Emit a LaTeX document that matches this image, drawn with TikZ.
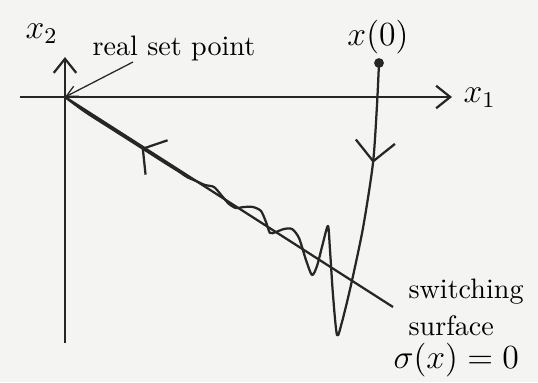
\documentclass[tikz,border=0pt]{standalone}
\usepackage{tikz}
\usetikzlibrary{arrows.meta,decorations.markings}
\definecolor{paper}{RGB}{244,244,243}
\definecolor{ink}{RGB}{38,38,38}

\begin{document}
\begin{tikzpicture}[
  x=0.0125cm, y=-0.0125cm,
  axis/.style={draw=ink, line width=0.8pt, -{Straight Barb[length=5pt,width=8pt]}},
  surf/.style={draw=ink, line width=0.8pt},
  traj/.style={draw=ink, line width=0.8pt, line join=round},
  pointer/.style={draw=ink, line width=0.45pt, -{Straight Barb[length=4pt,width=4pt]}},
  chevrons/.style={postaction={decorate}, decoration={markings,
    mark=at position 1.25cm with {\arrow[ink, line width=0.8pt]{Straight Barb[length=7pt,width=14pt]}},
    mark=at position -1.15cm with {\arrow[ink, line width=0.8pt]{Straight Barb[length=5.8pt,width=14.5pt]}}}},
  dot/.style={circle, fill=ink, inner sep=0pt, minimum size=3.5pt},
  lbl/.style={inner sep=0pt, font=\large},
  txt/.style={inner sep=0pt, font=\normalsize},
]
\fill[paper] (0,0) rectangle (538,382);
\useasboundingbox (0,0) rectangle (538,382);

% axes and the switching line
\coordinate (O) at (65,97);
\coordinate (x1from) at (20,97);
\coordinate (x1to) at (452,97);
\coordinate (x2from) at (65,343);
\coordinate (x2to) at (65,57);
\coordinate (surfend) at (393,307);
\draw[axis] (x1from) -- (x1to);
\draw[axis] (x2from) -- (x2to);
\draw[surf] (O) -- (surfend);

\node[lbl, anchor=base west] (x1lbl) at (463,102) {$x_1$};
\node[lbl, anchor=base west] (x2lbl) at (25,38) {$x_2$};

% set point
\node[txt, anchor=base west] (rsp) at (92,55) {real set point};
\coordinate (rspfoot) at (133,62);
\draw[pointer] (rspfoot) -- (O);

% initial state and trajectory
\node[dot] (x0) at (379,63) {};
\node[lbl, anchor=base] (x0lbl) at (378,45) {$x(0)$};
\draw[traj, chevrons] plot[smooth, tension=0.45] coordinates {
  (x0.center) (377,105) (373,163) (363,228) (351,285) (342,322) (337,335)
  (333,295) (330,250) (328,226) (323,243) (317,266) (312,275)
  (306,260) (299,238) (292,229) (284,229) (276,232) (270,233)
  (266,222) (261,211) (253,207) (244,207) (236,208) (229,204)
  (222,196) (214,187) (205,185) (196,181) (187,177) (178,171)
  (165,162.9) (140,146.9) (110,127.8) (85,111.8) (O)};

% switching surface label
\node[txt, anchor=north west, align=left] (swlbl) at (408,278.5) {switching\\[1pt]surface};
\node[lbl, anchor=base west] (sigma) at (393,368) {$\sigma(x)=0$};
\end{tikzpicture}
\end{document}
